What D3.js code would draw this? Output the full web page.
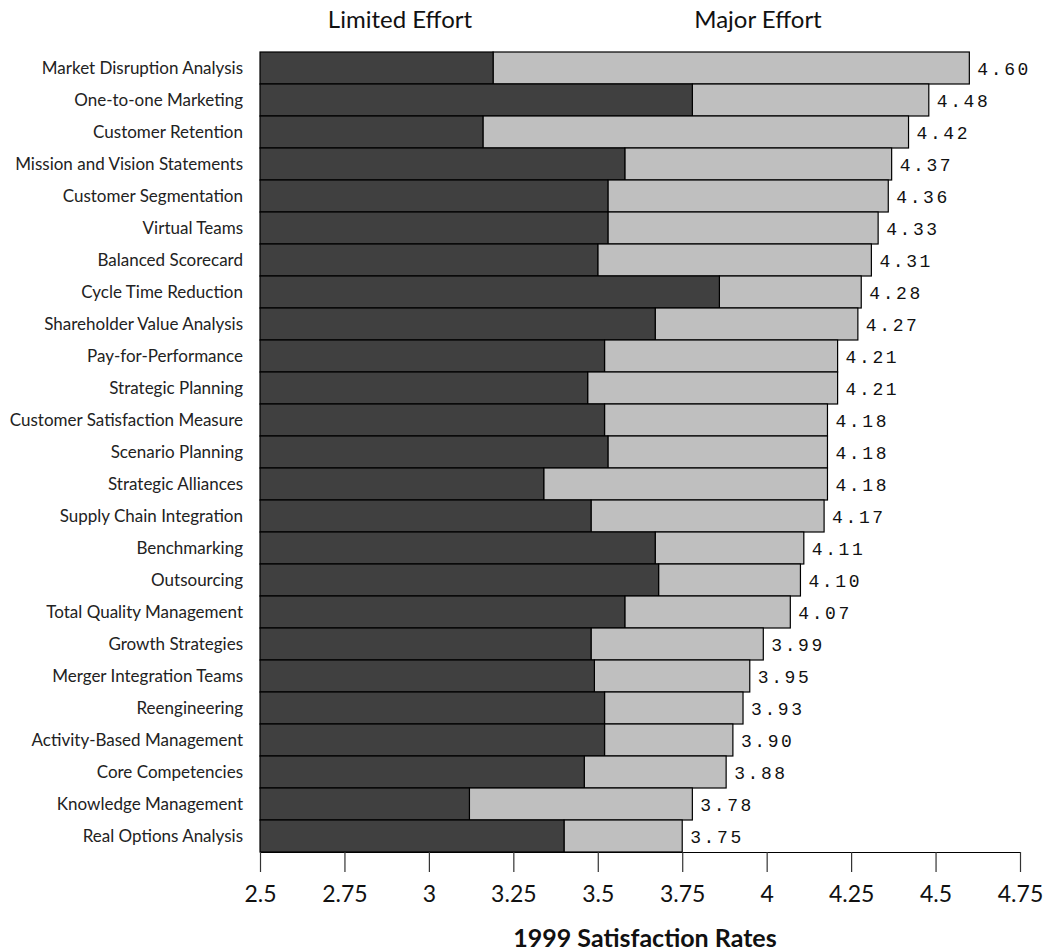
<!DOCTYPE html>
<html>
<head>
<meta charset="utf-8">
<script src="https://cdn.jsdelivr.net/npm/d3@7"></script>
<style>
  html, body { margin: 0; padding: 0; background: #fff; }
  svg { display: block; }
</style>
</head>
<body>
<div id="chart"></div>
<script>
// Management tools ranked by 1999 satisfaction rate
const tools = [
  "Market Disruption Analysis", "One-to-one Marketing", "Customer Retention",
  "Mission and Vision Statements", "Customer Segmentation", "Virtual Teams",
  "Balanced Scorecard", "Cycle Time Reduction", "Shareholder Value Analysis",
  "Pay-for-Performance", "Strategic Planning", "Customer Satisfaction Measure",
  "Scenario Planning", "Strategic Alliances", "Supply Chain Integration",
  "Benchmarking", "Outsourcing", "Total Quality Management", "Growth Strategies",
  "Merger Integration Teams", "Reengineering", "Activity-Based Management",
  "Core Competencies", "Knowledge Management", "Real Options Analysis"
];

// Satisfaction among firms making a limited effort
const limitedEffort = [
  3.19, 3.78, 3.16, 3.58, 3.53, 3.53, 3.50, 3.86, 3.67, 3.52, 3.47, 3.52, 3.53,
  3.34, 3.48, 3.67, 3.68, 3.58, 3.48, 3.49, 3.52, 3.52, 3.46, 3.12, 3.40
];

// Satisfaction among firms making a major effort
const majorEffort = [
  4.60, 4.48, 4.42, 4.37, 4.36, 4.33, 4.31, 4.28, 4.27, 4.21, 4.21, 4.18, 4.18,
  4.18, 4.17, 4.11, 4.10, 4.07, 3.99, 3.95, 3.93, 3.90, 3.88, 3.78, 3.75
];

const tickValues = [2.5, 2.75, 3, 3.25, 3.5, 3.75, 4, 4.25, 4.5, 4.75];
const tickLabels = ["2.5", "2.75", "3", "3.25", "3.5", "3.75", "4", "4.25", "4.5", "4.75"];
const seriesNames = ["Limited Effort", "Major Effort"];
const axisTitle = "1999 Satisfaction Rates";

const W = 1055, H = 952;
const sansFont = "'Lato', 'Open Sans', sans-serif";
const monoFont = "'Liberation Mono', 'DejaVu Sans Mono', monospace";

const rows = tools.map((name, i) => ({
  name, limited: limitedEffort[i], major: majorEffort[i]
}));

const x = d3.scaleLinear().domain([2.5, 4.75]).range([260, 1020]);
const y = d3.scaleBand().domain(tools).range([52, 852]).padding(0);

const svg = d3.select("#chart").append("svg")
  .attr("width", W).attr("height", H);

// Column headings
svg.selectAll("text.heading")
  .data(seriesNames)
  .join("text")
  .attr("class", "heading")
  .attr("x", (d, i) => i === 0 ? 400 : 758)
  .attr("y", 28)
  .attr("text-anchor", "middle")
  .attr("font-family", sansFont)
  .attr("font-size", 24)
  .attr("fill", "#111")
  .text(d => d);

const row = svg.append("g").selectAll("g")
  .data(rows)
  .join("g");

// Light segment: limited-effort score up to major-effort score
row.append("rect")
  .attr("x", d => x(d.limited))
  .attr("y", d => y(d.name))
  .attr("width", d => x(d.major) - x(d.limited))
  .attr("height", y.bandwidth())
  .attr("fill", "#bfbfbf")
  .attr("stroke", "#000")
  .attr("stroke-width", 1.2);

// Dark segment: axis start up to limited-effort score
row.append("rect")
  .attr("x", x(2.5))
  .attr("y", d => y(d.name))
  .attr("width", d => x(d.limited) - x(2.5))
  .attr("height", y.bandwidth())
  .attr("fill", "#404040")
  .attr("stroke", "#000")
  .attr("stroke-width", 1.2);

// Major-effort value at the bar end
row.append("text")
  .attr("x", d => x(d.major) + 8)
  .attr("y", d => y(d.name) + y.bandwidth() / 2 + 7)
  .attr("font-family", monoFont)
  .attr("font-size", 18)
  .attr("letter-spacing", 2.6)
  .attr("fill", "#111")
  .text(d => d.major.toFixed(2));

// Category labels
row.append("text")
  .attr("x", 243)
  .attr("y", d => y(d.name) + y.bandwidth() / 2 + 6)
  .attr("text-anchor", "end")
  .attr("font-family", sansFont)
  .attr("font-size", 17)
  .attr("fill", "#222")
  .text(d => d.name);

// Bottom axis
const axis = d3.axisBottom(x)
  .tickValues(tickValues)
  .tickFormat((d, i) => tickLabels[i])
  .tickSize(20)
  .tickSizeOuter(0)
  .tickPadding(14);

const gx = svg.append("g")
  .attr("transform", `translate(0,${852})`)
  .call(axis);
gx.select(".domain").attr("stroke", "#000").attr("stroke-width", 1.2);
gx.selectAll(".tick line").attr("stroke", "#333").attr("stroke-width", 1.2);
gx.selectAll(".tick text")
  .attr("font-family", sansFont)
  .attr("font-size", 23)
  .attr("fill", "#111");

// Axis title
svg.append("text")
  .attr("x", 645)
  .attr("y", 947)
  .attr("text-anchor", "middle")
  .attr("font-family", sansFont)
  .attr("font-weight", "bold")
  .attr("font-size", 25)
  .attr("fill", "#111")
  .text(axisTitle);
</script>
</body>
</html>
